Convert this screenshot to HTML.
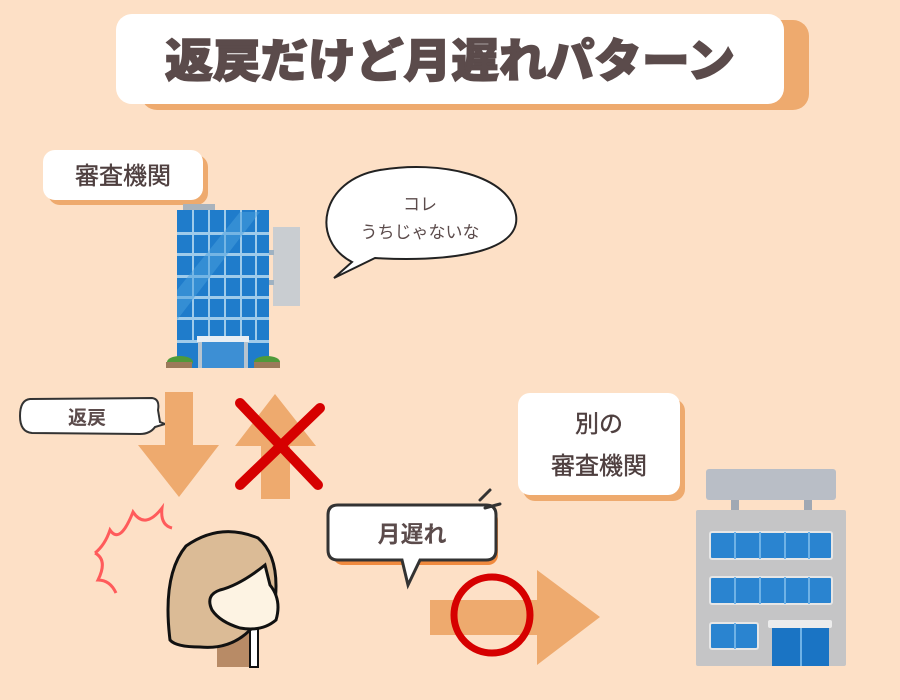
<!DOCTYPE html>
<html><head><meta charset="utf-8"><style>
html,body{margin:0;padding:0;background:#fde0c6;}
svg{display:block}
text{font-family:"Liberation Sans","Noto Sans CJK JP",sans-serif;}
</style></head><body>
<svg width="900" height="700" viewBox="0 0 900 700" xmlns="http://www.w3.org/2000/svg">
<rect width="900" height="700" fill="#fde0c6"/>
<!-- title -->
<rect x="141" y="20" width="668" height="90" rx="16" fill="#eeaa6e"/>
<rect x="116" y="14" width="668" height="90" rx="16" fill="#fff"/>
<text x="450" y="77" font-size="46" font-weight="900" fill="#5b4b4b" text-anchor="middle" textLength="570" lengthAdjust="spacingAndGlyphs" stroke="#5b4b4b" stroke-width="1.5">返戻だけど月遅れパターン</text>
<!-- label 1 -->
<rect x="48" y="155" width="160" height="50" rx="12" fill="#eeaa6e"/>
<rect x="43" y="150" width="160" height="50" rx="12" fill="#fff"/>
<text x="123" y="184" font-size="24" fill="#4e3f3f" text-anchor="middle" stroke="#4e3f3f" stroke-width="0.4">審査機関</text>
<!-- building 1 -->
<rect x="183" y="204" width="32" height="8" fill="#a9b3bd"/>
<rect x="273" y="227" width="27" height="79" fill="#c9cdd1"/>
<rect x="266" y="250" width="8" height="5" fill="#9fb2c2"/>
<rect x="266" y="280" width="8" height="5" fill="#9fb2c2"/>
<rect x="177" y="210" width="92" height="158" fill="#1f7ccb"/>
<g fill="#9fcbea">
<rect x="177" y="232" width="92" height="3"/><rect x="177" y="253" width="92" height="3"/><rect x="177" y="275" width="92" height="3"/><rect x="177" y="296" width="92" height="3"/><rect x="177" y="317" width="92" height="3"/><rect x="177" y="340" width="92" height="3"/>
<rect x="192" y="210" width="2" height="130"/><rect x="208" y="210" width="2" height="130"/><rect x="224" y="210" width="2" height="130"/><rect x="240" y="210" width="2" height="130"/><rect x="255" y="210" width="2" height="130"/>
</g>
<polygon points="177,290 240,212 260,212 177,320" fill="#4aa0de" opacity="0.5"/>
<rect x="197" y="336" width="52" height="6" fill="#e8eef3"/>
<rect x="200" y="342" width="46" height="26" fill="#3d8fd4"/>
<rect x="198" y="342" width="4" height="26" fill="#b7c4cf"/><rect x="244" y="342" width="4" height="26" fill="#b7c4cf"/>
<ellipse cx="180" cy="362" rx="13" ry="6" fill="#4e9a3a"/><rect x="166" y="362" width="26" height="6" fill="#9b7a5a"/>
<ellipse cx="267" cy="362" rx="13" ry="6" fill="#4e9a3a"/><rect x="254" y="362" width="26" height="6" fill="#9b7a5a"/>
<!-- speech bubble -->
<path d="M 352 262 C 310 240 320 180 380 170 C 440 160 510 175 516 215 C 522 255 440 262 375 258 L 334 278 Z" fill="#fff" stroke="#222" stroke-width="2"/>
<text x="420" y="210" font-size="17" fill="#5b4b4b" text-anchor="middle">コレ</text>
<text x="420" y="238" font-size="17" fill="#5b4b4b" text-anchor="middle">うちじゃないな</text>
<!-- 返戻 bubble -->
<path d="M 30 399 L 152 398 Q 160 399 158 410 L 160 422 L 165 424 L 155 427 Q 150 434 140 434 L 32 433 Q 20 432 20 416 Q 20 400 30 399 Z" fill="#fff" stroke="#333" stroke-width="2"/>
<text x="87" y="424" font-size="19" font-weight="bold" fill="#5b4b4b" text-anchor="middle">返戻</text>
<!-- down arrow -->
<polygon points="165,392 193,392 193,445 219,445 179,497 138,445 165,445" fill="#eeaa6e"/>
<!-- up arrow -->
<polygon points="261,499 290,499 290,446 316,446 275,394 235,446 261,446" fill="#eeaa6e"/>
<g stroke="#d60000" stroke-width="10" stroke-linecap="round">
<line x1="240" y1="403" x2="318" y2="485"/><line x1="320" y1="408" x2="240" y2="485"/>
</g>
<!-- burst -->
<path d="M 95 553 Q 105 545 110 530 Q 120 545 133 512 Q 145 530 162 508 Q 160 525 172 528 M 95 553 Q 108 560 98 580 Q 110 580 116 593" fill="none" stroke="#ff5b5b" stroke-width="3"/>
<!-- woman -->
<rect x="217" y="625" width="40" height="42" fill="#b88b66"/>
<rect x="250" y="625" width="8" height="42" fill="#fff" stroke="#111" stroke-width="2"/>
<path d="M 170 640 Q 162 575 186 546 Q 220 522 258 538 Q 282 558 274 610 L 250 630 Q 230 650 200 647 Q 176 647 170 640 Z" fill="#dbbb96" stroke="#111" stroke-width="3"/>
<path d="M 265 565 Q 240 585 220 590 Q 205 595 212 610 Q 220 622 240 628 Q 262 632 276 620 Q 282 600 270 585 Z" fill="#fdf3e3" stroke="#111" stroke-width="3"/>
<!-- 月遅れ bubble -->
<rect x="333" y="510" width="165" height="55" rx="10" fill="#f08a3e"/>
<path d="M 338 505 L 486 505 Q 496 505 496 515 L 496 550 Q 496 560 486 560 L 420 560 L 408 585 L 402 560 L 338 560 Q 328 560 328 550 L 328 515 Q 328 505 338 505 Z" fill="#fff" stroke="#333" stroke-width="3"/>
<text x="412" y="542" font-size="23" font-weight="bold" fill="#5b4b4b" text-anchor="middle">月遅れ</text>
<g stroke="#333" stroke-width="3" stroke-linecap="round"><line x1="480" y1="500" x2="490" y2="490"/><line x1="485" y1="508" x2="500" y2="504"/></g>
<!-- right arrow -->
<polygon points="430,600 537,600 537,570 600,617 537,665 537,635 430,635" fill="#eeaa6e"/>
<circle cx="492" cy="615" r="38" fill="none" stroke="#d60000" stroke-width="7"/>
<!-- label 2 -->
<rect x="523" y="399" width="162" height="102" rx="12" fill="#eeaa6e"/>
<rect x="518" y="393" width="162" height="102" rx="12" fill="#fff"/>
<text x="599" y="432" font-size="24" fill="#4e3f3f" text-anchor="middle" stroke="#4e3f3f" stroke-width="0.4">別の</text>
<text x="599" y="474" font-size="24" fill="#4e3f3f" text-anchor="middle" stroke="#4e3f3f" stroke-width="0.4">審査機関</text>
<!-- building 2 -->
<rect x="706" y="469" width="130" height="31" rx="3" fill="#b9bec6"/>
<rect x="731" y="500" width="8" height="11" fill="#a0a8b3"/><rect x="804" y="500" width="8" height="11" fill="#a0a8b3"/>
<rect x="696" y="510" width="150" height="156" rx="2" fill="#c5c5c6"/>
<rect x="710" y="532" width="122" height="27" rx="2" fill="#2a84d0" stroke="#e6e6e6" stroke-width="2"/>
<rect x="710" y="577" width="122" height="27" rx="2" fill="#2a84d0" stroke="#e6e6e6" stroke-width="2"/>
<rect x="710" y="623" width="48" height="26" rx="2" fill="#2a84d0" stroke="#e6e6e6" stroke-width="2"/>
<g fill="#6fb2e6"><rect x="734" y="532" width="2" height="27"/><rect x="759" y="532" width="2" height="27"/><rect x="784" y="532" width="2" height="27"/><rect x="808" y="532" width="2" height="27"/>
<rect x="734" y="577" width="2" height="27"/><rect x="759" y="577" width="2" height="27"/><rect x="784" y="577" width="2" height="27"/><rect x="808" y="577" width="2" height="27"/><rect x="734" y="623" width="2" height="26"/></g>
<rect x="768" y="620" width="64" height="8" rx="2" fill="#ececec"/>
<rect x="772" y="628" width="57" height="38" fill="#1a74c4"/>
<rect x="800" y="628" width="2" height="38" fill="#6fb2e6"/>
</svg>
</body></html>
